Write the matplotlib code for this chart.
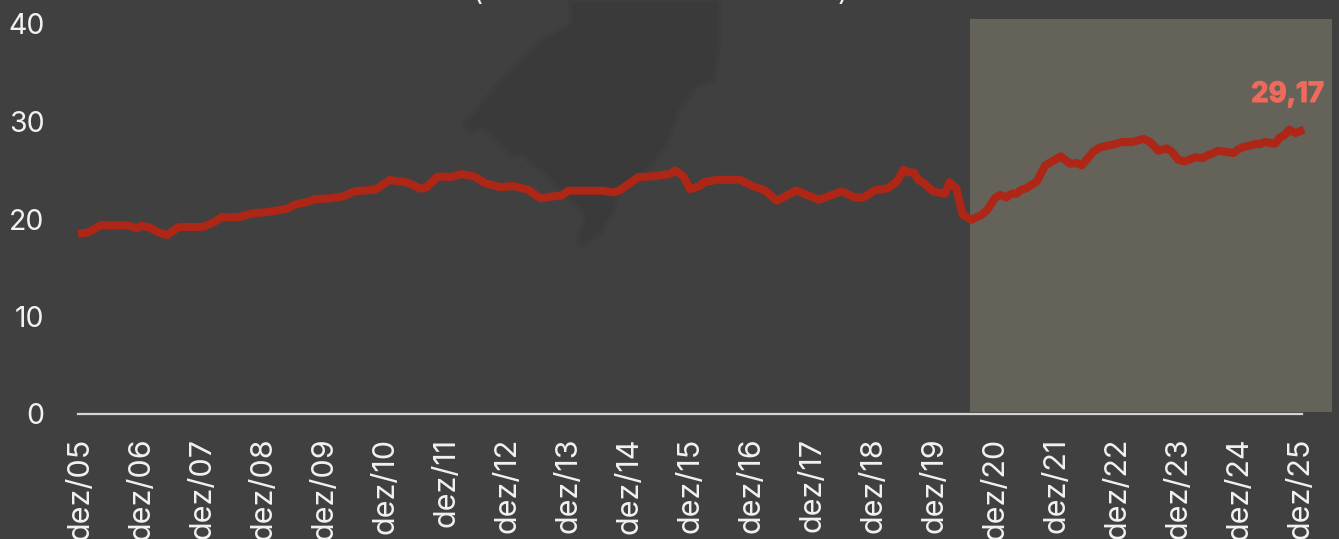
import matplotlib
matplotlib.use("Agg")
import matplotlib.pyplot as plt
import matplotlib.patheffects as pe
from matplotlib.patches import Polygon, Rectangle

W, H = 1339, 539
BG = "#404040"
RED = "#ae2616"

meses = [0, 2, 4.6, 7, 8.5, 10, 11.5, 12.5, 14, 15.7, 17.4, 19.6, 21, 23, 24.5, 26.5, 28.1, 31.4, 34.3, 37, 40.9, 42.5, 45.1, 46.4, 49.3, 51.9, 54.2, 58.2, 61, 64.4, 67.1, 68.3, 70.3, 73.2, 75.1, 77.7, 79.7, 82.6, 85.2, 88.2, 90.4, 94.7, 96, 99.6, 102.8, 104.8, 106, 109.7, 112.3, 115.9, 116.9, 118.5, 119.8, 121.8, 122.7, 125.4, 129.6, 131.9, 134.5, 136.8, 140.6, 145, 149.5, 152.1, 153.7, 156, 158.6, 160.3, 161.6, 162.5, 163.6, 164.5, 165.6, 167.4, 169.7, 170.6, 171.9, 173.2, 174.9, 176.9, 178, 179.5, 180.5, 181.7, 182.8, 183.7, 184.7, 185.7, 187.7, 189.3, 190.3, 192.4, 194.2, 195.5, 196.5, 198.8, 200, 203.3, 204.3, 206.3, 208.6, 209.9, 211.5, 213.1, 214.1, 215.4, 216.7, 218.7, 220.2, 221.3, 222.3, 223.2, 226.2, 227.2, 228.1, 229.4, 230.4, 231.4, 232.4, 234.3, 235.3, 236.3, 237.1, 238.3, 240]
valores = [18.48, 18.62, 19.40, 19.30, 19.40, 19.30, 19.06, 19.30, 19.13, 18.65, 18.34, 19.15, 19.20, 19.17, 19.20, 19.64, 20.19, 20.19, 20.60, 20.70, 21.05, 21.49, 21.77, 22.04, 22.11, 22.31, 22.86, 23.00, 23.99, 23.75, 23.10, 23.27, 24.33, 24.33, 24.61, 24.33, 23.68, 23.27, 23.38, 23.00, 22.14, 22.42, 22.90, 22.90, 22.90, 22.72, 22.93, 24.30, 24.37, 24.61, 24.98, 24.37, 23.07, 23.41, 23.82, 24.02, 24.02, 23.41, 22.93, 21.87, 22.93, 21.97, 22.83, 22.21, 22.21, 22.93, 23.17, 23.85, 25.05, 24.78, 24.78, 24.02, 23.68, 22.83, 22.59, 23.78, 23.17, 20.43, 19.92, 20.43, 20.94, 22.14, 22.48, 22.21, 22.59, 22.59, 23.00, 23.17, 23.85, 25.46, 25.79, 26.42, 25.67, 25.74, 25.50, 26.93, 27.34, 27.72, 27.89, 27.89, 28.23, 27.89, 27.00, 27.24, 26.93, 26.07, 25.90, 26.34, 26.25, 26.59, 26.76, 27.00, 26.76, 27.18, 27.38, 27.52, 27.69, 27.69, 27.89, 27.72, 28.37, 28.64, 29.16, 28.82, 29.17]
rotulos_x = ["dez/%02d" % a for a in range(5, 26)]
ticks_y = [0, 10, 20, 30, 40]
mes_destaque = 174.6
rotulo_final = "29,17"

plt.rcParams["font.family"] = ["Inter", "DejaVu Sans"]
fig = plt.figure(figsize=(W / 100, H / 100), dpi=100, facecolor=BG)

# decorative silhouette behind the chart (pixel coordinates of the figure)
silhueta = [(510,0),(510,70),(420,120),(330,210),(270,280),(190,370),(210,400),(250,385),(340,475),(365,465),(440,530),(540,630),(555,650),(530,720),(550,740),(600,700),(640,640),(650,590),(740,510),(800,440),(840,330),(890,260),(945,240),(960,120),(960,0)]
fig.add_artist(Polygon([((400 + x / 3) / W, 1 - (y / 3) / H) for x, y in silhueta],
                       closed=True, transform=fig.transFigure, fc="#3a3a3a", ec="#3d3d3d", lw=3,
                       joinstyle="round", zorder=0))

# the title's parentheses are cut by the top edge of the picture
for xp, txt in [(478, "("), (843, ")")]:
    fig.text(xp / W, 1 - 6 / H, txt, ha="center", va="bottom", color="#f2f2f2", fontsize=20)

# axes: data x 0..240 -> px 78..1304; y 0..40 -> px 414..24
px_por_mes = (1304 - 78) / 240
x0, x1 = 78, 1332
y0, y1 = 414, 19
ax = fig.add_axes([x0 / W, 1 - y0 / H, (x1 - x0) / W, (y0 - y1) / H])
ax.patch.set_alpha(0)
ax.set_xlim(0, (x1 - x0) / px_por_mes)
ax.set_ylim(0, (y0 - y1) / 9.75)

ax.add_patch(Rectangle((mes_destaque, 0.2), ax.get_xlim()[1] - mes_destaque, ax.get_ylim()[1] - 0.2,
                       fc="#656259", ec="none", zorder=1))
ax.plot(meses, valores, color=RED, lw=5.8, solid_joinstyle="round", solid_capstyle="butt", zorder=3)

for s in ("top", "left", "right"):
    ax.spines[s].set_visible(False)
ax.spines["bottom"].set_color("#d4d4d4")
ax.spines["bottom"].set_linewidth(1.6)
ax.spines["bottom"].set_bounds(0, 239.6)

ax.set_yticks(ticks_y)
ax.set_xticks([0.55 + 11.94 * i for i in range(len(rotulos_x))])
ax.set_xticklabels(rotulos_x, rotation=90, va="top", ha="center")
ax.tick_params(axis="both", length=0, labelcolor="#f2f2f2", labelsize=20.5)
ax.tick_params(axis="x", labelsize=22, pad=17)
ax.tick_params(axis="y", pad=24)

ax.annotate(rotulo_final, (meses[-1], valores[-1]), xytext=(14.4, 25), textcoords="offset points",
            ha="right", va="center", color="#ee6a5c", fontsize=20, fontweight="bold", zorder=4,
            path_effects=[pe.withStroke(linewidth=0.9, foreground="#ee6a5c")])

fig.savefig("out.png", dpi=100, facecolor=BG)
